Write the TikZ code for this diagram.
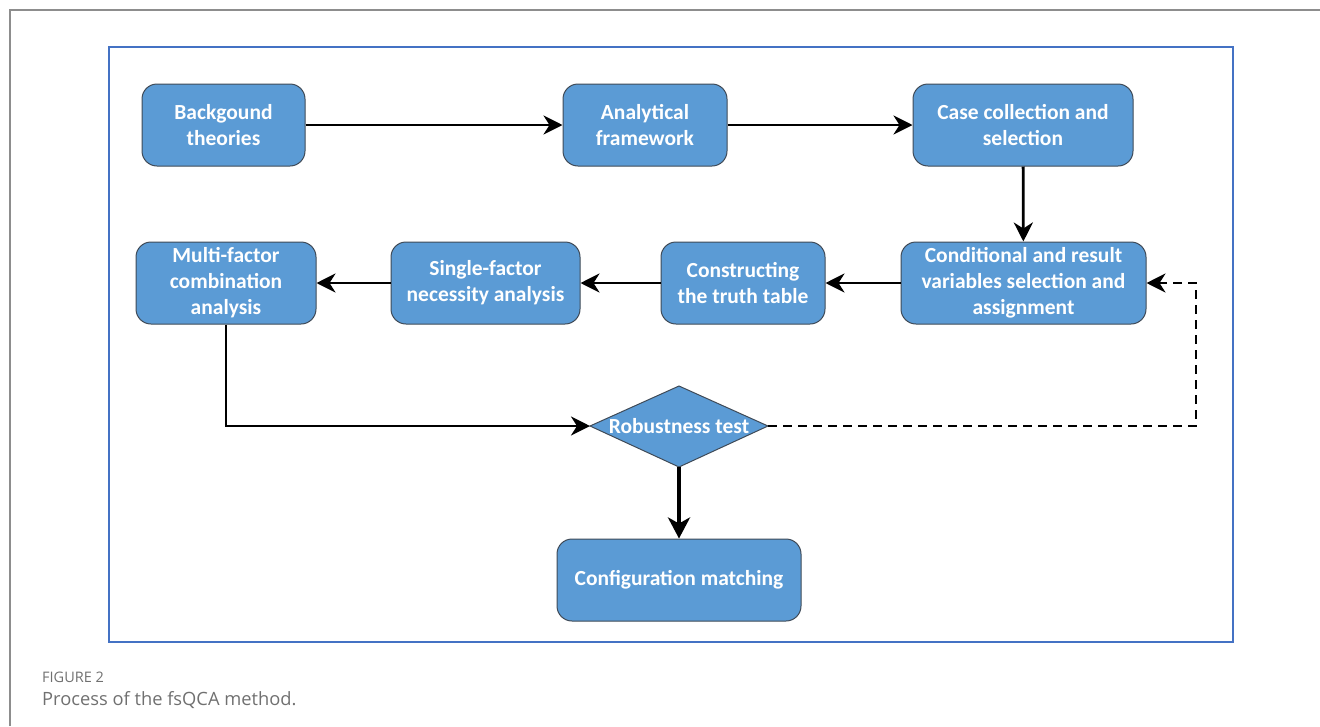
\documentclass[tikz,border=0pt]{standalone}
\usepackage{fontspec}
\setmainfont{Carlito}
\newfontfamily\capfont{Open Sans}
\usetikzlibrary{shapes.geometric,arrows.meta}
\definecolor{boxfill}{HTML}{5B9BD5}
\definecolor{boxline}{HTML}{3F4A57}
\definecolor{frameblue}{HTML}{4472C4}
\definecolor{capgray}{HTML}{707070}
\begin{document}
\begin{tikzpicture}[x=1pt,y=-1pt,
  proc/.style={draw=boxline,line width=1pt,fill=boxfill,rounded corners=15pt,
    text=white,font=\fontsize{21.5}{26}\selectfont\bfseries,align=center,inner sep=0pt},
  conn/.style={line width=2.8pt,-{Stealth[length=19pt,width=19pt,inset=6pt]}},
]
\useasboundingbox (0,0) rectangle (1320,726);
% outer grey frame
\draw[capgray!80,line width=1.5pt] (10,726) -- (10,10) -- (1320,10);
% blue frame
\draw[frameblue,line width=2.2pt] (109,47) rectangle (1233,642);
% nodes
\node[proc,minimum width=163pt,minimum height=82pt] (bg) at (223.5,125) {Backgound\\theories};
\node[proc,minimum width=164pt,minimum height=82pt] (af) at (645,125) {Analytical\\framework};
\node[proc,minimum width=220pt,minimum height=82pt] (cc) at (1023,125) {Case collection and\\selection};
\node[proc,minimum width=245pt,minimum height=82pt] (cv) at (1023.5,283) {Conditional and result\\variables selection and\\assignment};
\node[proc,minimum width=164pt,minimum height=82pt] (tt) at (743,283) {Constructing\\the truth table};
\node[proc,minimum width=189pt,minimum height=82pt] (sf) at (485.5,283) {Single-factor\\necessity analysis};
\node[proc,minimum width=180pt,minimum height=82pt] (mf) at (226,283) {Multi-factor\\combination\\analysis};
\node[proc,minimum width=244pt,minimum height=82pt] (cm) at (679,580) {Configuration matching};
% diamond
\path[draw=boxline,line width=1pt,fill=boxfill] (590,426) -- (679,386) -- (768,426) -- (679,467) -- cycle;
\node[text=white,font=\fontsize{21.5}{26}\selectfont\bfseries,inner sep=0pt] (rtl) at (679,426) {Robustness test};
\coordinate (rtW) at (590,426);
\coordinate (rtE) at (768,426);
\coordinate (rtS) at (679,467);
% connectors
\draw[conn] (bg) -- (af);
\draw[conn] (af) -- (cc);
\draw[conn] (cc) -- (cv);
\draw[conn] (cv) -- (tt);
\draw[conn] (tt) -- (sf);
\draw[conn] (sf) -- (mf);
\draw[conn] (mf.south) |- (rtW);
\draw[line width=4.2pt,-{Stealth[length=21pt,width=22pt,inset=6pt]}] (rtS) -- (cm.north);
\coordinate (dc) at (1196,426);
\draw[conn,dash pattern=on 9pt off 6pt] (rtE) -- (dc) |- (cv.east);
% caption
\node[anchor=base west,inner sep=0pt,text=capgray,font=\capfont\fontsize{14.5}{16}\selectfont] (fig) at (42,682) {FIGURE 2};
\node[anchor=base west,inner sep=0pt,text=capgray,font=\capfont\fontsize{18.3}{20}\selectfont] (capt) at (42,705) {Process of the fsQCA method.};
\end{tikzpicture}
\end{document}
